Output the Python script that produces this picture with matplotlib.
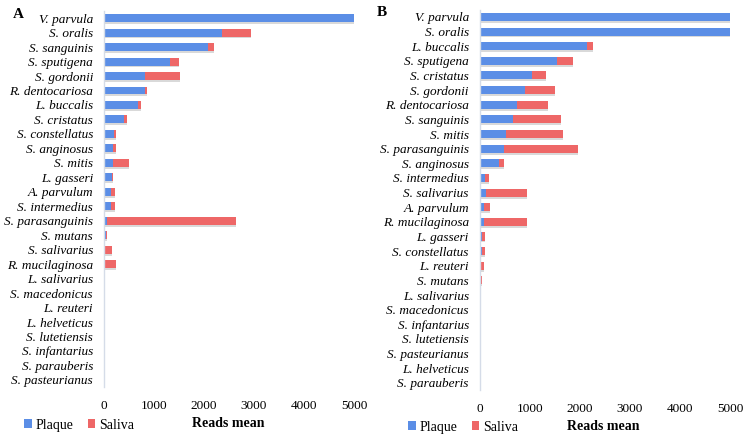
import matplotlib
matplotlib.use("Agg")
import matplotlib.pyplot as plt
import numpy as np

# ---- Panel A data ----
species_a = ["V. parvula", "S. oralis", "S. sanguinis", "S. sputigena", "S. gordonii",
             "R. dentocariosa", "L. buccalis", "S. cristatus", "S. constellatus", "S. anginosus",
             "S. mitis", "L. gasseri", "A. parvulum", "S. intermedius", "S. parasanguinis",
             "S. mutans", "S. salivarius", "R. mucilaginosa", "L. salivarius", "S. macedonicus",
             "L. reuteri", "L. helveticus", "S. lutetiensis", "S. infantarius", "S. parauberis",
             "S. pasteurianus"]
plaque_a = [5000, 2350, 2070, 1310, 820, 820, 670, 400, 190, 175,
            185, 160, 140, 140, 65, 40, 10, 10, 2, 3,
            3, 2, 2, 1, 1, 1]
saliva_a = [0, 580, 120, 190, 700, 35, 60, 60, 45, 55,
            305, 15, 80, 80, 2580, 20, 150, 230, 25, 25,
            25, 25, 5, 3, 2, 2]

# ---- Panel B data ----
species_b = ["V. parvula", "S. oralis", "L. buccalis", "S. sputigena", "S. cristatus",
             "S. gordonii", "R. dentocariosa", "S. sanguinis", "S. mitis", "S. parasanguinis",
             "S. anginosus", "S. intermedius", "S. salivarius", "A. parvulum", "R. mucilaginosa",
             "L. gasseri", "S. constellatus", "L. reuteri", "S. mutans", "L. salivarius",
             "S. macedonicus", "S. infantarius", "S. lutetiensis", "S. pasteurianus", "L. helveticus",
             "S. parauberis"]
plaque_b = [5000, 5000, 2150, 1550, 1040, 910, 750, 670, 520, 480,
            390, 105, 115, 75, 75, 45, 35, 20, 20, 3,
            3, 2, 2, 1, 1, 1]
saliva_b = [0, 0, 105, 305, 275, 600, 610, 945, 1150, 1480,
            95, 80, 820, 120, 860, 50, 60, 55, 15, 25,
            25, 3, 3, 2, 2, 2]

xticks = [0, 1000, 2000, 3000, 4000, 5000]

blue = "#5B8EE6"
red = "#EE6767"
shadow = "#D9D9D9"

plt.rcParams['font.family'] = ['Liberation Serif', 'DejaVu Serif']

fig = plt.figure(figsize=(7.43, 4.36), dpi=100)

def panel(rect, species, plaque, saliva):
    ax = fig.add_axes(rect)
    y = np.arange(len(species))
    plaque = np.array(plaque, float)
    saliva = np.array(saliva, float)
    total = np.minimum(plaque + saliva, 5000)
    h = 0.55
    ax.barh(y + 0.13, total, height=h, left=0, color=shadow, zorder=1)
    b1 = ax.barh(y, plaque, height=h, color=blue, zorder=2, label="Plaque")
    b2 = ax.barh(y, np.minimum(saliva, 5000 - plaque), left=plaque, height=h,
                 color=red, zorder=2, label="Saliva")
    ax.set_xlim(0, 5000)
    ax.set_ylim(len(species) - 0.5, -0.5)
    ax.set_yticks(y)
    ax.set_yticklabels(species, fontstyle="italic", fontsize=9.5)
    ax.set_xticks(xticks)
    ax.set_xticklabels([str(t) for t in xticks], fontsize=9.5)
    ax.tick_params(axis="both", length=0)
    ax.tick_params(axis="x", pad=9)
    ax.tick_params(axis="y", pad=8)
    for s in ["top", "right", "bottom"]:
        ax.spines[s].set_visible(False)
    ax.spines["left"].set_color("#D5DCE8")
    ax.spines["left"].set_linewidth(1.0)
    return ax, b1, b2

axA, a1, a2 = panel([0.140, 0.112, 0.3365, 0.863], species_a, plaque_a, saliva_a)
axB, c1, c2 = panel([0.646, 0.105, 0.3365, 0.873], species_b, plaque_b, saliva_b)

fig.text(18 / 743, 1 - 14 / 436, "A", fontsize=11, fontweight="bold", ha="center", va="center")
fig.text(382 / 743, 1 - 12 / 436, "B", fontsize=11, fontweight="bold", ha="center", va="center")

fig.text(228 / 743, 1 - 423 / 436, "Reads mean", fontsize=10, fontweight="bold", ha="center", va="center")
fig.text(603 / 743, 1 - 426 / 436, "Reads mean", fontsize=10, fontweight="bold", ha="center", va="center")

for (h1, h2), (lx, ly) in [((a1, a2), (24, 425)), ((c1, c2), (408, 427))]:
    fig.legend([h1, h2], ["Plaque", "Saliva"], loc="center left",
               bbox_to_anchor=(lx / 743, 1 - ly / 436), frameon=False,
               ncol=2, fontsize=10, handlelength=0.55, handleheight=0.55,
               handletextpad=0.3, columnspacing=1.0, borderpad=0, borderaxespad=0)

fig.savefig("out.png", dpi=100)
